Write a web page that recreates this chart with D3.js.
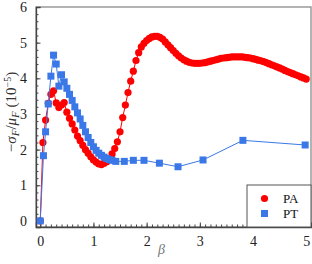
<!DOCTYPE html>
<html>
<head>
<meta charset="utf-8">
<script src="https://cdn.jsdelivr.net/npm/d3@7"></script>
<style>
  body { margin: 0; background: #fff; }
  svg { display: block; }
</style>
</head>
<body>
<div id="chart"></div>
<script>
var svgWidth = 312;
var svgHeight = 264;

// PA (red circles), beta in steps of 0.05
var paBeta = [0, 0.05, 0.1, 0.15, 0.2, 0.25, 0.3, 0.35, 0.4, 0.45, 0.5, 0.55, 0.6, 0.65, 0.7, 0.75, 0.8, 0.85, 0.9, 0.95,
  1.0, 1.05, 1.1, 1.15, 1.2, 1.25, 1.3, 1.35, 1.4, 1.45, 1.5, 1.55, 1.6, 1.65, 1.7, 1.75, 1.8, 1.85, 1.9, 1.95,
  2.0, 2.05, 2.1, 2.15, 2.2, 2.25, 2.3, 2.35, 2.4, 2.45, 2.5, 2.55, 2.6, 2.65, 2.7, 2.75, 2.8, 2.85, 2.9, 2.95,
  3.0, 3.05, 3.1, 3.15, 3.2, 3.25, 3.3, 3.35, 3.4, 3.45, 3.5, 3.55, 3.6, 3.65, 3.7, 3.75, 3.8, 3.85, 3.9, 3.95,
  4.0, 4.05, 4.1, 4.15, 4.2, 4.25, 4.3, 4.35, 4.4, 4.45, 4.5, 4.55, 4.6, 4.65, 4.7, 4.75, 4.8, 4.85, 4.9, 4.95, 5.0];
var paValue = [0, 2.2, 2.83, 3.3, 3.55, 3.65, 3.31, 3.18, 3.25, 3.32, 3.05, 2.88, 2.72, 2.55, 2.38, 2.25, 2.12, 2.0, 1.9, 1.8,
  1.71, 1.65, 1.6, 1.58, 1.62, 1.66, 1.74, 1.88, 2.03, 2.22, 2.5, 2.9, 3.25, 3.6, 3.92, 4.2, 4.5, 4.72, 4.88, 4.98,
  5.06, 5.12, 5.16, 5.18, 5.18, 5.15, 5.1, 5.02, 4.94, 4.86, 4.78, 4.7, 4.63, 4.57, 4.52, 4.48, 4.45, 4.43, 4.42, 4.42,
  4.42, 4.43, 4.44, 4.46, 4.48, 4.5, 4.52, 4.54, 4.56, 4.57, 4.58, 4.59, 4.6, 4.6, 4.6, 4.6, 4.6, 4.59, 4.58, 4.57,
  4.55, 4.53, 4.51, 4.49, 4.47, 4.44, 4.41, 4.38, 4.35, 4.32, 4.29, 4.26, 4.22, 4.19, 4.16, 4.13, 4.1, 4.07, 4.04, 4.01, 3.98];

// PT (blue squares)
var ptBeta = [0, 0.06, 0.1, 0.15, 0.2, 0.25, 0.3, 0.35, 0.4, 0.45, 0.5, 0.55, 0.6, 0.65, 0.7, 0.75, 0.8, 0.85, 0.9, 0.95,
  1.0, 1.05, 1.1, 1.15, 1.2, 1.25, 1.3, 1.35, 1.42, 1.58, 1.75, 1.95, 2.24, 2.59, 3.06, 3.81, 4.98];
var ptValue = [0, 1.83, 2.5, 3.28, 4.06, 4.65, 4.4, 3.78, 4.1, 3.9, 3.72, 3.55, 3.38, 3.2, 3.03, 2.86, 2.68, 2.5, 2.34, 2.2,
  2.08, 1.98, 1.9, 1.84, 1.79, 1.75, 1.72, 1.7, 1.67, 1.67, 1.7, 1.7, 1.62, 1.52, 1.71, 2.26, 2.13];

var xTicks = [0, 1, 2, 3, 4, 5];
var yTicks = [0, 1, 2, 3, 4, 5, 6];
var seriesNames = ["PA", "PT"];

var margin = { top: 7, right: 1, bottom: 37, left: 36 };
var width = svgWidth - margin.left - margin.right;
var height = svgHeight - margin.top - margin.bottom;

var red = "#ff0000";
var blue = "#3b78e7";
var serif = "'Liberation Serif', 'DejaVu Serif', serif";

var svg = d3.select("#chart").append("svg")
  .attr("width", svgWidth)
  .attr("height", svgHeight);

var g = svg.append("g")
  .attr("transform", `translate(${margin.left}, ${margin.top})`);

var x = d3.scaleLinear().domain([-0.08, 5.09]).range([0, width]);
var y = d3.scaleLinear().domain([-0.17, 6]).range([height, 0]);

// frame
g.append("rect")
  .attr("width", width).attr("height", height)
  .attr("fill", "none").attr("stroke", "#8a8a8a").attr("stroke-width", 1.3);

// minor ticks
g.append("g")
  .attr("transform", `translate(0, ${height})`)
  .call(d3.axisBottom(x).tickValues(d3.range(0, 5.05, 0.1)).tickSize(-2.5).tickFormat(""))
  .call(a => a.select(".domain").remove())
  .selectAll("line").attr("stroke", "#444");
g.append("g")
  .call(d3.axisLeft(y).tickValues(d3.range(0, 6.01, 0.2)).tickSize(-2.5).tickFormat(""))
  .call(a => a.select(".domain").remove())
  .selectAll("line").attr("stroke", "#444");

// major ticks
var xAxis = g.append("g")
  .attr("transform", `translate(0, ${height})`)
  .call(d3.axisBottom(x).tickValues(xTicks).tickSize(-4.5).tickPadding(9).tickFormat(d3.format("d")));
xAxis.select(".domain").attr("stroke", "#444").attr("stroke-width", 1.3);
xAxis.selectAll("line").attr("stroke", "#444");

var yAxis = g.append("g")
  .call(d3.axisLeft(y).tickValues(yTicks).tickSize(-4.5).tickPadding(9).tickFormat(d3.format("d")));
yAxis.select(".domain").attr("stroke", "#444").attr("stroke-width", 1.3);
yAxis.selectAll("line").attr("stroke", "#444");

[xAxis, yAxis].forEach(function(a) {
  a.attr("font-family", serif).attr("font-size", 14);
  a.selectAll("text").attr("fill", "#222");
});

var pa = paBeta.map((b, i) => [b, paValue[i]]);
var pt = ptBeta.map((b, i) => [b, ptValue[i]]);

var line = d3.line().x(d => x(d[0])).y(d => y(d[1]));

var plot = g.append("g");

// PA
plot.append("path").datum(pa)
  .attr("d", line).attr("fill", "none").attr("stroke", red).attr("stroke-width", 1);
plot.selectAll("circle.pa").data(pa).enter().append("circle")
  .attr("class", "pa")
  .attr("cx", d => x(d[0])).attr("cy", d => y(d[1]))
  .attr("r", 3.6).attr("fill", red);

// PT
plot.append("path").datum(pt)
  .attr("d", line).attr("fill", "none").attr("stroke", blue).attr("stroke-width", 1);
var sq = 7;
plot.selectAll("rect.pt").data(pt).enter().append("rect")
  .attr("class", "pt")
  .attr("x", d => x(d[0]) - sq / 2).attr("y", d => y(d[1]) - sq / 2)
  .attr("width", sq).attr("height", sq).attr("fill", blue);

// legend
var leg = g.append("g").attr("transform", `translate(${211}, ${178})`);
leg.append("rect")
  .attr("width", width - 211).attr("height", height - 178)
  .attr("fill", "#fff").attr("stroke", "#555").attr("stroke-width", 1);
seriesNames.forEach(function(name, i) {
  var cy = 13.5 + i * 15;
  if (i === 0) {
    leg.append("circle").attr("cx", 17.5).attr("cy", cy).attr("r", 3.6).attr("fill", red);
  } else {
    leg.append("rect").attr("x", 17.5 - sq / 2).attr("y", cy - sq / 2)
      .attr("width", sq).attr("height", sq).attr("fill", blue);
  }
  leg.append("text")
    .attr("x", 36).attr("y", cy + 4.5)
    .attr("font-family", serif).attr("font-size", "13px")
    .attr("fill", "#111")
    .text(name);
});

// axis labels
svg.append("text")
  .attr("x", margin.left + x(2.28)).attr("y", 254)
  .attr("text-anchor", "middle")
  .attr("font-family", serif).attr("font-size", "14px")
  .attr("font-style", "italic").attr("fill", "#777")
  .text("β");

var yl = svg.append("text")
  .attr("transform", "translate(16, 112) rotate(-90)")
  .attr("text-anchor", "middle")
  .attr("font-family", serif).attr("font-size", "15px")
  .attr("fill", "#333");
yl.append("tspan").text("−");
yl.append("tspan").attr("font-style", "italic").text("σ");
yl.append("tspan").attr("font-style", "italic").attr("font-size", "11px").attr("dy", 3).text("F");
yl.append("tspan").attr("dy", -3).text("/");
yl.append("tspan").attr("font-style", "italic").text("μ");
yl.append("tspan").attr("font-style", "italic").attr("font-size", "11px").attr("dy", 3).text("F");
yl.append("tspan").attr("dy", -3).text(" (10");
yl.append("tspan").attr("font-size", "10px").attr("dy", -5).text("−5");
yl.append("tspan").attr("dy", 5).text(")");
</script>
</body>
</html>
